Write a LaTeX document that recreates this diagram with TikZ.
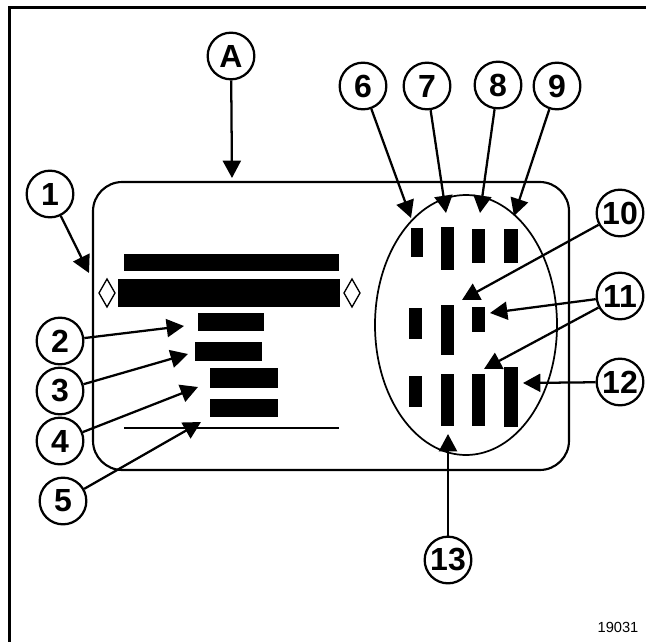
\documentclass[tikz,border=0pt]{standalone}
\usepackage{fontspec}
\setmainfont{Liberation Sans}
\usetikzlibrary{arrows.meta}
\tikzset{
    callout/.style={
        circle, draw=black, line width=1.7pt, fill=white,
        minimum size=35pt, inner sep=0pt,
        font=\bfseries\fontsize{24}{24}\selectfont
    },
    callarr/.style={-{Triangle[length=13pt, width=13.5pt]}, line width=1.7pt},
    barfill/.style={fill=black, draw=none},
}

\begin{document}
\begin{tikzpicture}[x=0.75pt, y=-0.75pt]
    \useasboundingbox (0,0) rectangle (646,642);

    % ── frame ─────────────────────────────────────────
    \draw [line width=2.2pt] (9.5,642) -- (9.5,7.5) -- (646,7.5);

    % ── plate ─────────────────────────────────────────
    \draw [line width=1.6pt, rounded corners=22pt] (93,182) rectangle (569,470);

    % ── left field: text lines ───────────────────────
    \fill [barfill] (124,254) rectangle (339,271);
    \fill [barfill] (118,279) rectangle (340,307);
    \draw [line width=1pt] (99,293) -- (107,279) -- (115,293) -- (107,307) -- cycle;
    \draw [line width=1pt] (344,293) -- (352,279) -- (360,293) -- (352,307) -- cycle;
    \fill [barfill] (198,313) rectangle (264,331);
    \fill [barfill] (195,342) rectangle (262,361);
    \fill [barfill] (210,368) rectangle (278,388);
    \fill [barfill] (210,399) rectangle (278,417);
    \draw [line width=1.5pt] (124,428) -- (339,428);

    % ── right field: oval with bars ──────────────────
    \draw [line width=1.3pt] (466,325) ellipse [x radius=68.25pt, y radius=97.5pt];
    \fill [barfill] (411,228) rectangle (423,257);
    \fill [barfill] (441,227) rectangle (454,270);
    \fill [barfill] (472,229) rectangle (485,263);
    \fill [barfill] (504,229) rectangle (518,263);
    \fill [barfill] (409,308) rectangle (422,339);
    \fill [barfill] (441,305) rectangle (454,355);
    \fill [barfill] (472,307) rectangle (485,332);
    \fill [barfill] (409,376) rectangle (422,407);
    \fill [barfill] (441,374) rectangle (454,426);
    \fill [barfill] (472,374) rectangle (485,426);
    \fill [barfill] (504,367) rectangle (518,427);

    % ── callouts ─────────────────────────────────────
    \node [callout] (nA)  at (231,56)  {A};
    \node [callout] (n1)  at (50,194)  {1};
    \node [callout] (n2)  at (60,341)  {2};
    \node [callout] (n3)  at (60,391)  {3};
    \node [callout] (n4)  at (60,441)  {4};
    \node [callout] (n5)  at (63,501)  {5};
    \node [callout] (n6)  at (363,86)  {6};
    \node [callout] (n7)  at (427,86)  {7};
    \node [callout] (n8)  at (498,85)  {8};
    \node [callout] (n9)  at (557,86)  {9};
    \node [callout] (n10) at (620,213) {10};
    \node [callout] (n11) at (620,296) {11};
    \node [callout] (n12) at (620,382) {12};
    \node [callout] (n13) at (448,560) {13};

    % ── arrow tips ───────────────────────────────────
    \coordinate (tA)  at (232,178);
    \coordinate (t1)  at (89,273);
    \coordinate (t2)  at (184,326);
    \coordinate (t3)  at (188,354);
    \coordinate (t4)  at (198,387);
    \coordinate (t5)  at (201,422);
    \coordinate (t6)  at (411,218);
    \coordinate (t7)  at (446,213);
    \coordinate (t8)  at (480,213);
    \coordinate (t9)  at (514,216);
    \coordinate (t10) at (462,300);
    \coordinate (t11a) at (490,313);
    \coordinate (t11b) at (484,369);
    \coordinate (t12) at (523,383);
    \coordinate (t13) at (448,434);

    \foreach \n in {A,1,2,3,4,5,6,7,8,9,10,12,13}
        \draw [callarr] (n\n) -- (t\n);
    \draw [callarr] (n11) -- (t11a);
    \draw [callarr] (n11) -- (t11b);

    % ── drawing number ───────────────────────────────
    \node [font=\fontsize{11}{11}\selectfont] (num) at (618,627) {19031};

\end{tikzpicture}
\end{document}
